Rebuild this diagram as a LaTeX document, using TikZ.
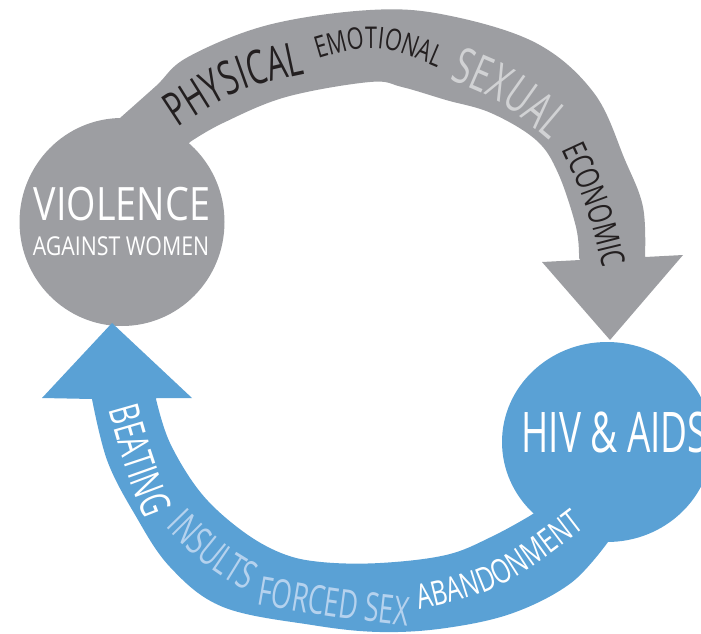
\documentclass[tikz,border=0pt]{standalone}
\usepackage{fontspec}
\setmainfont{Open Sans}
\newfontfamily\cfa[FakeStretch=0.82]{Open Sans}
\newfontfamily\cfb[FakeStretch=0.72]{Open Sans}
\newfontfamily\cfc[FakeStretch=0.66]{Open Sans}
\usetikzlibrary{decorations.text,shapes.geometric}
\definecolor{vgray}{HTML}{9D9EA2}
\definecolor{hblue}{HTML}{5AA1D5}
\definecolor{dtext}{HTML}{231F20}
\definecolor{ltext}{HTML}{D1D2D4}
\definecolor{lblue}{HTML}{B5D2EE}
\newcommand\fs[1]{\fontsize{#1}{#1}\selectfont}
\newcommand\fPhys{\cfc\fs{47}\color{dtext}}
\newcommand\fEmo{\cfb\fs{30}\color{dtext}}
\newcommand\fSex{\cfc\fs{50}\color{ltext}}
\newcommand\fEco{\cfb\fs{33}\color{dtext}}
\newcommand\fBeat{\cfc\fs{42}\color{white}}
\newcommand\fIns{\cfc\fs{40}\color{lblue}}
\newcommand\fFor{\cfc\fs{40}\color{lblue}}
\newcommand\fAba{\cfb\fs{34}\color{white}}
\tikzset{
  wordpath/.style={decorate, decoration={text along path, text align=center, text={#1}}},
  hub/.style={ellipse, inner sep=0pt, draw=none},
}
\begin{document}
\begin{tikzpicture}[x=1pt,y=-1pt]
\useasboundingbox (0,0) rectangle (701,634);
\clip (0,0) rectangle (701,634);
% gray hub
\node[hub, fill=vgray, minimum width=205pt, minimum height=208pt] (vaw) at (122,222) {};
% blue hub
\node[hub, fill=hblue, minimum width=210pt, minimum height=200pt] (hiv) at (607,442) {};
% gray arrow
\fill[vgray] (115,140) -- plot[smooth, tension=0.6] coordinates {(120,118) (156,86) (188,57) (268,25) (370,10) (446,15) (536,43) (594,93) (625,160) (643,207) (645,257)}
  -- (683,255) -- (610,340) -- (542,262) -- (580,260)
  -- plot[smooth, tension=0.6] coordinates {(579,258) (576,227) (558,173) (536,140) (491,113) (446,100) (402,87) (370,82) (286,97) (223,123) (190,142)}
  -- (170,165) -- cycle;
% blue arrow
\fill[hblue] (42,398) -- (112,323) -- (192,398) -- (156,398)
  -- plot[smooth, tension=0.6] coordinates {(156,399) (170,443) (201,493) (241,530) (281,553) (321,562) (380,563) (446,555) (491,537) (536,512) (548,500)}
  -- (600,520)
  -- plot[smooth, tension=0.6] coordinates {(608,542) (571,583) (513,613) (446,628) (380,632) (312,625) (223,607) (170,567) (134,513) (107,460) (92,399)}
  -- cycle;
% hub labels
\node[anchor=base, text=white, font=\cfa\fs{46}] (t1) at (122,220) {VIOLENCE};
\node[anchor=base, text=white, font=\cfa\fs{26}] (t2) at (121,255) {AGAINST WOMEN};
\node[anchor=base west, text=white, font=\cfc\fs{56}] (t3) at (518,452) {HIV \& AIDS};
% words on gray arrow
\path[wordpath={|\fPhys|PHYSICAL}] (162,138) .. controls (237,88) .. (324,70);
\path[wordpath={|\fEmo|EMOTIONAL}] (295,66) .. controls (376.5,40.5) .. (460,77);
\path[wordpath={|\fSex|SEXUAL}] (434,74) .. controls (500,99) .. (562,152);
\path[wordpath={|\fEco|ECONOMIC}] (553,131) .. controls (588,206) .. (607,288);
% words on blue arrow
\path[wordpath={|\fBeat|BEATING}] (102,388) .. controls (124.5,468) .. (153,540);
\path[wordpath={|\fIns|INSULTS}] (153,514) .. controls (204.5,567) .. (262,600);
\path[wordpath={|\fFor|FORCED SEX}] (238,601) .. controls (332,617.5) .. (426,628);
\path[wordpath={|\fAba|ABANDONMENT}] (405,613) .. controls (503,590.5) .. (597,518);
\end{tikzpicture}
\end{document}
